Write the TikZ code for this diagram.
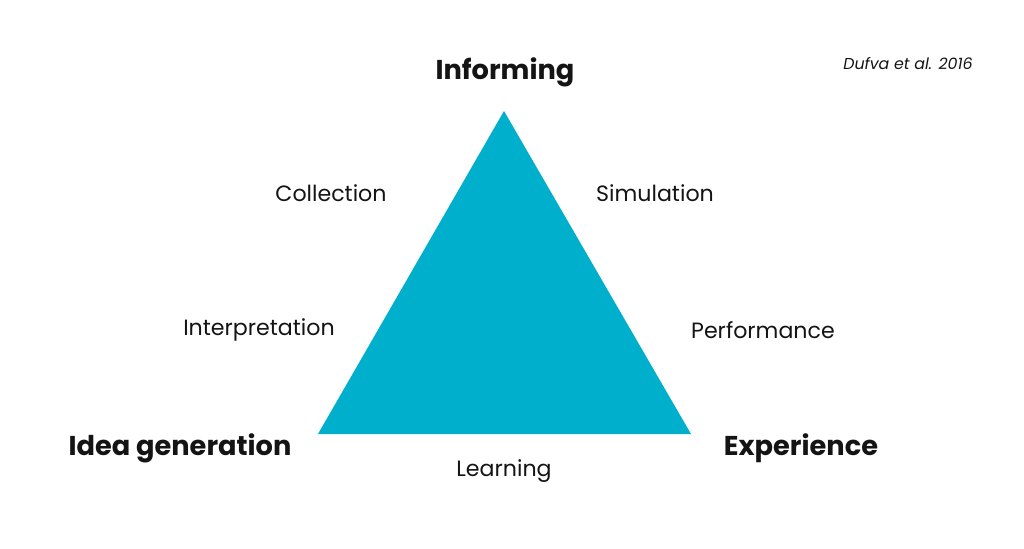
\documentclass[tikz,border=0pt]{standalone}
\usepackage{fontspec}
\setmainfont{Poppins}
\definecolor{triblue}{RGB}{0,175,203}
\definecolor{labelgrey}{RGB}{20,20,20}
\usetikzlibrary{positioning}
\tikzset{
  cornerlabel/.style={font=\fontsize{15.5}{18}\selectfont\bfseries, text=labelgrey},
  sidelabel/.style={font=\fontsize{12.6}{15}\selectfont, text=labelgrey},
  citelabel/.style={font=\fontsize{9}{11}\selectfont\itshape, text=labelgrey},
}

\begin{document}
\begin{tikzpicture}[x=0.02cm, y=-0.02cm]
  \useasboundingbox (0,0) rectangle (1024,548);

  % Triangle corners
  \coordinate (apex) at (504,111);
  \coordinate (baseleft) at (318,434);
  \coordinate (baseright) at (691,434);
  \fill[triblue] (apex) -- (baseleft) -- (baseright) -- cycle;

  % Corner labels
  \node[cornerlabel] (informing) at (505,72) {Informing};
  \node[cornerlabel] (ideagen) at (180,448) {Idea generation};
  \node[cornerlabel] (experience) at (801,448) {Experience};

  % Side labels
  \node[sidelabel] (collection) at (331,193) {Collection};
  \node[sidelabel] (interpretation) at (259,330) {Interpretation};
  \node[sidelabel] (simulation) at (655,193) {Simulation};
  \node[sidelabel] (performance) at (763,330) {Performance};
  \node[sidelabel] (learning) at (504,471) {Learning};

  % Source
  \node[citelabel] (source) at (908,64) {Dufva et al. 2016};
\end{tikzpicture}
\end{document}
